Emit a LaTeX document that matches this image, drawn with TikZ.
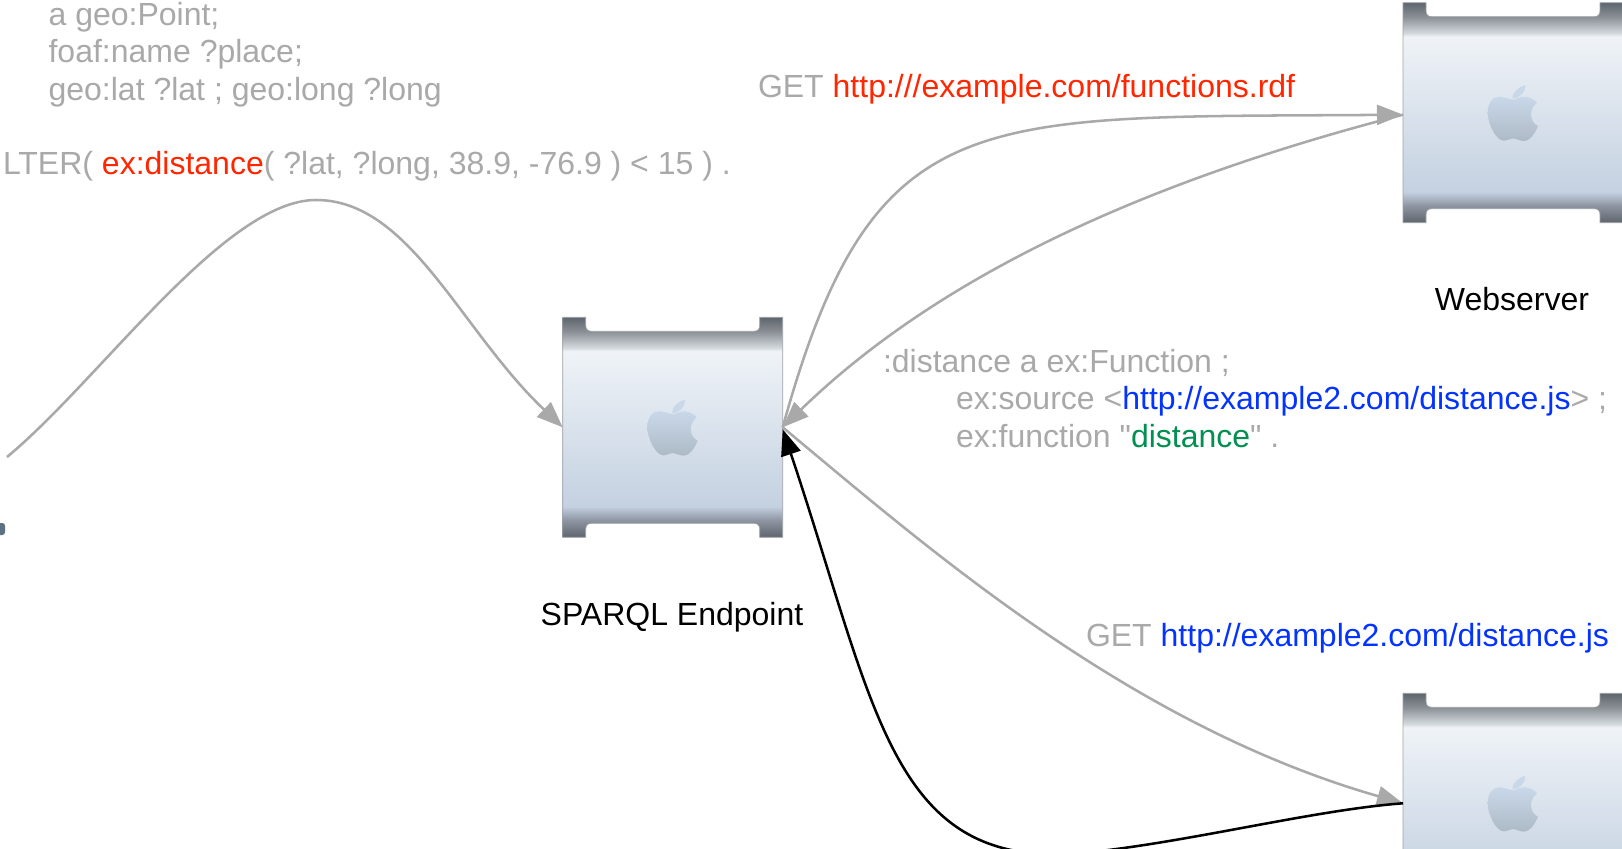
\documentclass[tikz,border=0pt]{standalone}
\usepackage{fontspec}
\newfontfamily\plainf{Liberation Sans}
\usetikzlibrary{arrows.meta}
\definecolor{tgray}{HTML}{A9A9A9}
\definecolor{tred}{HTML}{FF2600}
\definecolor{tblue}{HTML}{0433FF}
\definecolor{tgreen}{HTML}{009051}
\definecolor{srvd}{HTML}{5F656D}
\definecolor{srvb}{HTML}{8E95A2}
\definecolor{srvlow}{HTML}{C4D1E1}
\definecolor{srvhi}{HTML}{EFF3F7}
\definecolor{srvmid}{HTML}{D5DADF}
\definecolor{srvq}{HTML}{8A8F95}
\definecolor{appt}{HTML}{C9D8E9}
\definecolor{appb}{HTML}{ADBAC6}
\definecolor{blob}{HTML}{5E7183}
\pgfdeclareverticalshading{srvshade}{100bp}{
  color(0bp)=(srvd); color(25bp)=(srvd); color(28.9bp)=(srvb); color(32bp)=(srvlow);
  color(67.3bp)=(srvhi); color(68bp)=(srvmid); color(71.8bp)=(srvq); color(75bp)=(srvd); color(100bp)=(srvd)}
\tikzset{
  srvnode/.style={minimum size=165pt,inner sep=0pt,outer sep=0pt},
  txt/.style={anchor=base west,inner sep=0pt,outer sep=0pt,font=\plainf\fontsize{24pt}{28pt}\selectfont,text=tgray},
  lbl/.style={anchor=base,inner sep=0pt,outer sep=0pt,font=\plainf\fontsize{24pt}{28pt}\selectfont,text=black},
  conn/.style={draw=tgray,line width=1.9pt,-{Triangle[length=19.5pt,width=15pt]}},
  connb/.style={draw=black,line width=1.9pt,-{Triangle[length=19.5pt,width=15pt]}},
  server/.pic={
    \path[shade,shading=srvshade,draw=srvd!60,line width=.5pt]
      (-110,-110) -- (-87,-110) -- (-87,-102) .. controls (-87,-98) and (-85,-96) .. (-81,-96)
      -- (81,-96) .. controls (85,-96) and (87,-98) .. (87,-102) -- (87,-110) -- (110,-110)
      -- (110,110) -- (87,110) -- (87,102) .. controls (87,98) and (85,96) .. (81,96)
      -- (-81,96) .. controls (-85,96) and (-87,98) .. (-87,102) -- (-87,110) -- (-110,110) -- cycle;
    \begin{scope}[x=.25pt,y=-.25pt]
      \path[top color=appt,bottom color=appb]
        (0,-39) .. controls (-15,-42) and (-28,-48) .. (-43,-48)
        .. controls (-62,-48) and (-76,-28) .. (-76,0)
        .. controls (-76,35) and (-50,84) .. (-28,84)
        .. controls (-15,84) and (-10,77) .. (0,77)
        .. controls (12,77) and (18,85) .. (32,85)
        .. controls (52,85) and (68,58) .. (75,40)
        .. controls (62,35) and (54,20) .. (54,5)
        .. controls (54,-10) and (62,-22) .. (72,-30)
        .. controls (62,-42) and (46,-48) .. (32,-48)
        .. controls (18,-48) and (10,-39) .. (0,-39) -- cycle;
      \path[fill=appt]
        (-2,-43) .. controls (-2,-62) and (18,-78) .. (37,-83)
        .. controls (38,-62) and (20,-42) .. (-2,-43) -- cycle;
    \end{scope}
  }
}
\begin{document}
\begin{tikzpicture}[x=.75pt,y=-.75pt]
\path[use as bounding box] (0,0) rectangle (1622,849);
\clip (0,0) rectangle (1622,849);
\fill[white] (0,0) rectangle (1622,849);
% servers
\node[srvnode] (ep) at (672.7,427.3) {};
\node[srvnode] (web) at (1513,112.7) {};
\node[srvnode] (store) at (1513,803.3) {};
\pic at (ep) {server};
\pic at (web) {server};
\pic at (store) {server};
\coordinate (client) at (7,457);
% fragment of the cut-off client machine
\fill[rounded corners=2pt,fill=blob] (-6,523) rectangle (5,535);
% connectors
\draw[conn] (client) .. controls (100,380) and (225,200) .. (316,200)
  .. controls (410,200) and (460,330) .. (ep.west);
\draw[conn] (ep.east) .. controls (873,100) and (975,118) .. ([yshift=-1.5pt]web.west);
\draw[conn] ([yshift=-1.5pt]web.west) .. controls (1170,175) and (950,265) .. (ep.east);
\draw[conn] (ep.east) .. controls (930,550) and (1130,725) .. (store.west);
\draw[connb] (store.west) .. controls (1310,810) and (1170,847) .. (1068,854)
  .. controls (890,862) and (875,705) .. ([yshift=-1.5pt]ep.east);
% labels
\node[txt] (q1) at (48.6,26) {a geo:Point;};
\node[txt] (q2) at (48.6,63) {foaf:name ?place;};
\node[txt] (q3) at (48.6,101) {geo:lat ?lat ; geo:long ?long};
\node[txt] (q4) at (3,175) {LTER( \textcolor{tred}{ex:distance}( ?lat, ?long, 38.9, -76.9 ) < 15 ) .};
\node[txt] (g1) at (758,98) {GET \textcolor{tred}{http:///example.com/functions.rdf}};
\node[txt] (d1) at (883,372) {:distance a ex:Function ;};
\node[txt] (d2) at (956,409.5) {ex:source <\textcolor{tblue}{http://example2.com/distance.js}> ;};
\node[txt] (d3) at (956,447) {ex:function "\textcolor{tgreen}{distance}" .};
\node[txt] (g2) at (1086,646) {GET \textcolor{tblue}{http://example2.com/distance.js}};
\node[lbl] (lweb) at (1512,310) {Webserver};
\node[lbl] (lep) at (672,625) {SPARQL Endpoint};
\end{tikzpicture}
\end{document}
